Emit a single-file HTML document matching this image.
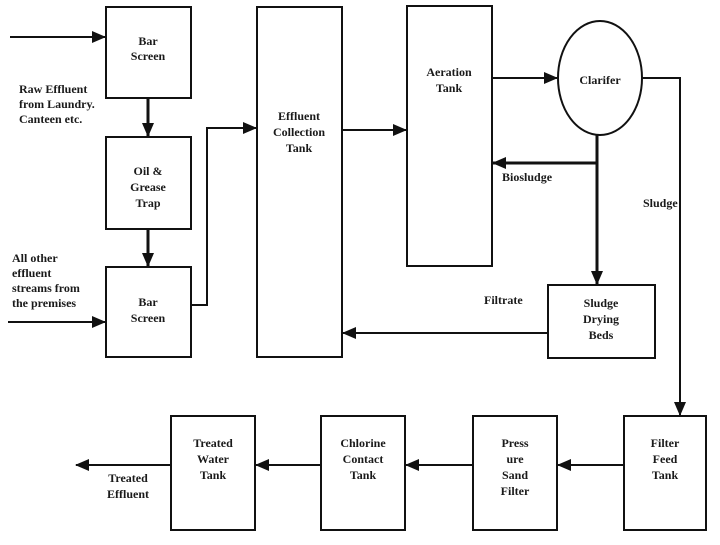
<!DOCTYPE html>
<html><head><meta charset="utf-8"><style>
body{margin:0;background:#fff}
svg text{font-family:"Liberation Serif",serif;font-weight:bold;font-size:12px;fill:#1a1a1a}
</style></head><body>
<svg width="720" height="540" viewBox="0 0 720 540" xmlns="http://www.w3.org/2000/svg">
<defs><marker id="a" markerWidth="8" markerHeight="8" refX="7" refY="4" orient="auto" markerUnits="userSpaceOnUse"><path d="M0,0 L8,4 L0,8 z" fill="#111"/></marker>
<marker id="b" markerWidth="14" markerHeight="12" refX="13" refY="6" orient="auto" markerUnits="userSpaceOnUse"><path d="M0,0 L14,6 L0,12 z" fill="#111"/></marker></defs>
<g fill="none" stroke="#111" stroke-width="2">
<rect x="106" y="7" width="85" height="91"/>
<rect x="106" y="137" width="85" height="92"/>
<rect x="106" y="267" width="85" height="90"/>
<rect x="257" y="7" width="85" height="350"/>
<rect x="407" y="6" width="85" height="260"/>
<ellipse cx="600" cy="78" rx="42" ry="57"/>
<rect x="548" y="285" width="107" height="73"/>
<rect x="624" y="416" width="82" height="114"/>
<rect x="473" y="416" width="84" height="114"/>
<rect x="321" y="416" width="84" height="114"/>
<rect x="171" y="416" width="84" height="114"/>
<line x1="10" y1="37" x2="105" y2="37" marker-end="url(#b)"/>
<line x1="8" y1="322" x2="105" y2="322" marker-end="url(#b)"/>
<line x1="148" y1="98" x2="148" y2="136" stroke-width="3" marker-end="url(#b)"/>
<line x1="148" y1="229" x2="148" y2="266" stroke-width="3" marker-end="url(#b)"/>
<polyline points="191,305 207,305 207,128 256,128" marker-end="url(#b)"/>
<line x1="342" y1="130" x2="406" y2="130" marker-end="url(#b)"/>
<line x1="492" y1="78" x2="557" y2="78" marker-end="url(#b)"/>
<line x1="597" y1="135" x2="597" y2="284" stroke-width="3" marker-end="url(#b)"/>
<line x1="597" y1="163" x2="493" y2="163" stroke-width="3" marker-end="url(#b)"/>
<polyline points="642,78 680,78 680,415" marker-end="url(#b)"/>
<line x1="548" y1="333" x2="343" y2="333" marker-end="url(#b)"/>
<line x1="624" y1="465" x2="558" y2="465" marker-end="url(#b)"/>
<line x1="473" y1="465" x2="406" y2="465" marker-end="url(#b)"/>
<line x1="321" y1="465" x2="256" y2="465" marker-end="url(#b)"/>
<line x1="171" y1="465" x2="76" y2="465" marker-end="url(#b)"/>
</g>
<g text-anchor="middle">
<text x="148" y="45">Bar</text><text x="148" y="60">Screen</text>
<text x="148" y="175">Oil &amp;</text><text x="148" y="191">Grease</text><text x="148" y="207">Trap</text>
<text x="148" y="306">Bar</text><text x="148" y="322">Screen</text>
<text x="299" y="120">Effluent</text><text x="299" y="136">Collection</text><text x="299" y="152">Tank</text>
<text x="449" y="76">Aeration</text><text x="449" y="92">Tank</text>
<text x="600" y="84">Clarifer</text>
<text x="601" y="307">Sludge</text><text x="601" y="323">Drying</text><text x="601" y="339">Beds</text>
<text x="665" y="447">Filter</text><text x="665" y="463">Feed</text><text x="665" y="479">Tank</text>
<text x="515" y="447">Press</text><text x="515" y="463">ure</text><text x="515" y="479">Sand</text><text x="515" y="495">Filter</text>
<text x="363" y="447">Chlorine</text><text x="363" y="463">Contact</text><text x="363" y="479">Tank</text>
<text x="213" y="447">Treated</text><text x="213" y="463">Water</text><text x="213" y="479">Tank</text>
<text x="128" y="482">Treated</text><text x="128" y="498">Effluent</text>
</g>
<text x="19" y="93">Raw Effluent</text><text x="19" y="108">from Laundry.</text><text x="19" y="123">Canteen etc.</text>
<text x="12" y="262">All other</text><text x="12" y="277">effluent</text><text x="12" y="292">streams from</text><text x="12" y="307">the premises</text>
<text x="502" y="181">Biosludge</text>
<text x="643" y="207">Sludge</text>
<text x="484" y="304">Filtrate</text>
</svg>
</body></html>
